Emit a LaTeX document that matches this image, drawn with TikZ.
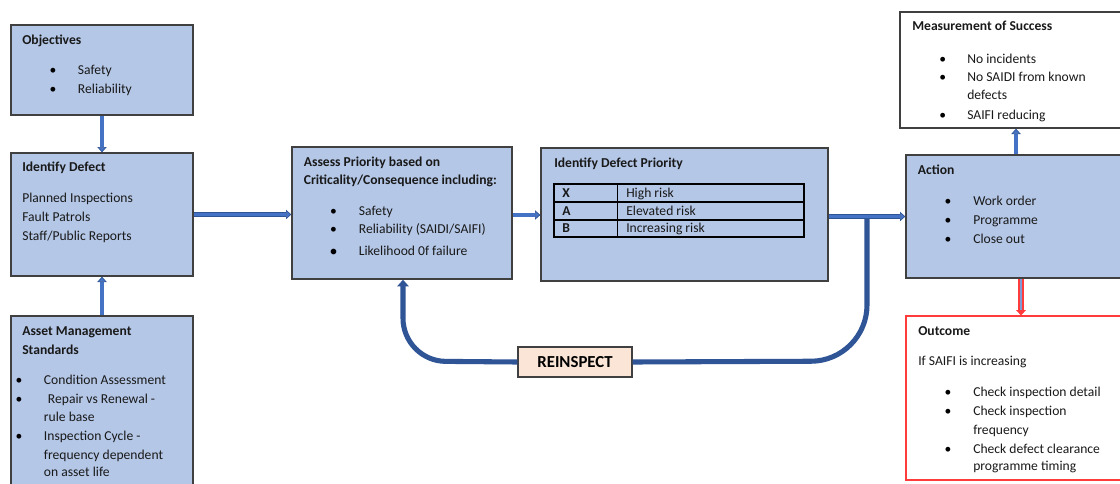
\documentclass[tikz,border=0pt]{standalone}
\usepackage{fontspec}
\setmainfont{Carlito}
\usetikzlibrary{arrows.meta,fit}
\definecolor{boxblue}{HTML}{B4C7E7}
\definecolor{edge}{HTML}{404040}
\definecolor{arrblue}{HTML}{4472C4}
\definecolor{arrdark}{HTML}{2F5597}
\definecolor{peach}{HTML}{FBE5D6}
\definecolor{outred}{HTML}{FF3B3B}
\newcommand\tl[4]{\node[txt] (#1) at (#2,#3) {#4};}
\newcommand\tb[4]{\node[txt,font=\fontsize{10.2}{13}\selectfont\bfseries] (#1) at (#2,#3) {#4};}
\newcommand\bu[3]{\node[bul] (#1) at (#2,#3) {\textbullet};}
\begin{document}
\begin{tikzpicture}[x=0.75pt,y=-0.75pt,
  every node/.style={font=\fontsize{10.2}{13}\selectfont},
  box/.style={draw=edge, line width=1pt, fill=boxblue, inner sep=0pt},
  wbox/.style={draw=edge, line width=1pt, fill=white, inner sep=0pt},
  rbox/.style={draw=outred, line width=1pt, fill=white, inner sep=0pt},
  txt/.style={anchor=base west, inner sep=0pt, text=black!90},
  bul/.style={anchor=base, inner sep=0pt},
  arr/.style={draw=arrdark, line width=0.5pt, double=arrblue, double distance=2.4pt,
    -{Triangle[length=4pt,width=7pt,fill=arrblue]}},
  loopline/.style={draw=arrdark, line width=3.8pt},
  redarr/.style={draw=outred, line width=1.1pt, double=arrblue!70, double distance=1.8pt,
    -{Triangle[length=4pt,width=7.5pt,fill=outred]}}]
\clip (0,0) rectangle (1120,483);
\fill[white] (0,0) rectangle (1120,483);

% boxes
\node[box, fit={(11,25) (193,115)}] (obj) {};
\node[box, fit={(11,153) (193,276)}] (idf) {};
\node[box, fit={(11,316) (193,495)}] (ams) {};
\node[box, fit={(292,147) (512,279)}] (asp) {};
\node[box, fit={(541,148) (828,281)}] (idp) {};
\node[box, fit={(906,155) (1130,278)}] (act) {};
\node[wbox, fit={(900,12) (1130,128)}] (mos) {};
\node[rbox, fit={(906,316) (1130,480)}] (out) {};
\node[draw=edge, line width=1pt, fill=peach, inner sep=0pt, fit={(518,347) (632,377)}] (rei) {};
\node[anchor=center, inner sep=0pt, font=\fontsize{12.6}{14}\selectfont\bfseries] (reit) at (rei.center) {REINSPECT};

% Objectives
\tb{objt}{22}{44}{Objectives}
\bu{objb1}{53}{74.5}\tl{objl1}{77.7}{74.5}{Safety}
\bu{objb2}{53}{93.5}\tl{objl2}{77.7}{93.5}{Reliability}

% Identify Defect
\tb{idft}{22}{171.5}{Identify Defect}
\tl{idf1}{22}{202.5}{Planned Inspections}
\tl{idf2}{22}{221.5}{Fault Patrols}
\tl{idf3}{22}{240.5}{Staff/Public Reports}

% Asset Management Standards
\tb{amst1}{22}{335.5}{Asset Management}
\tb{amst2}{22}{354}{Standards}
\bu{amsb1}{19}{384.5}\tl{amsl1}{43.7}{384.5}{Condition Assessment}
\bu{amsb2}{19}{403.3}\tl{amsl2}{47.7}{403.3}{Repair vs Renewal -}
\tl{amsl3}{43.7}{421.7}{rule base}
\bu{amsb3}{19}{440.7}\tl{amsl4}{43.7}{440.7}{Inspection Cycle -}
\tl{amsl5}{43.7}{459}{frequency dependent}
\tl{amsl6}{43.7}{476.7}{on asset life}

% Assess Priority
\tb{aspt1}{303.6}{166}{Assess Priority based on}
\tb{aspt2}{303.6}{184.5}{Criticality/Consequence including:}
\bu{aspb1}{333.6}{215}\tl{aspl1}{358.6}{215}{Safety}
\bu{aspb2}{333.6}{233}\tl{aspl2}{358.6}{233}{Reliability (SAIDI/SAIFI)}
\node[bul, font=\fontsize{12}{13}\selectfont] (aspb3) at (333.6,256) {\textbullet};
\tl{aspl3}{358.6}{255.7}{Likelihood 0f failure}

% Identify Defect Priority
\tb{idpt}{554}{167}{Identify Defect Priority}
\draw[line width=1pt, draw=black] (554,184) rectangle (804,237);
\draw[line width=1pt, draw=black] (554,202) -- (804,202) (554,220) -- (804,220) (617.5,184) -- (617.5,237);
\tb{tx}{562}{197}{X}\tl{txl}{626}{197}{High risk}
\tb{ta}{562}{215}{A}\tl{tal}{626}{215}{Elevated risk}
\tb{tbb}{562}{232.5}{B}\tl{tbl}{626}{232.5}{Increasing risk}

% Action
\tb{actt}{917.7}{174.7}{Action}
\bu{actb1}{948}{205.7}\tl{actl1}{973}{205.7}{Work order}
\bu{actb2}{948}{224.7}\tl{actl2}{973}{224.7}{Programme}
\bu{actb3}{948}{243.7}\tl{actl3}{973}{243.7}{Close out}

% Measurement of Success
\tb{most}{912}{30.7}{Measurement of Success}
\bu{mosb1}{942.7}{63}\tl{mosl1}{967}{63}{No incidents}
\bu{mosb2}{942.7}{81.7}\tl{mosl2}{967}{81.7}{No SAIDI from known}
\tl{mosl3}{967}{99.7}{defects}
\bu{mosb3}{942.7}{119}\tl{mosl4}{967}{119}{SAIFI reducing}

% Outcome
\tb{outt}{918}{335}{Outcome}
\tl{outi}{918}{365.7}{If SAIFI is increasing}
\bu{outb1}{948}{396.7}\tl{outl1}{973}{396.7}{Check inspection detail}
\bu{outb2}{948}{415.7}\tl{outl2}{973}{415.7}{Check inspection}
\tl{outl3}{973}{434}{frequency}
\bu{outb3}{948}{453}\tl{outl4}{973}{453}{Check defect clearance}
\tl{outl5}{973}{470.7}{programme timing}

% helper coordinates
\coordinate (j) at (867,216.5);
\coordinate (rc) at (867,361);
\coordinate (lc) at (403,361);
\coordinate (am) at (1016,0);
\coordinate (ao) at (1021,0);

% loop (reinspect)
\draw[loopline, rounded corners=42pt] (j) -- (rc) -- (rei.east);
\draw[loopline, rounded corners=32pt, -{Triangle[length=5pt,width=8.5pt]}] (rei.west) -- (lc) -- (asp.south -| lc);

% arrows
\draw[arr] (obj.south) -- (idf.north);
\draw[arr] (ams.north) -- (idf.south);
\draw[arr] (idf.east |- 0,214.5) -- (asp.west |- 0,214.5);
\draw[arr] (asp.east |- 0,215) -- (idp.west |- 0,215);
\draw[arr] (idp.east |- j) -- (act.west |- j);
\draw[arr] (act.north -| am) -- (mos.south -| am);
\draw[redarr] (act.south -| ao) -- (out.north -| ao);
\end{tikzpicture}
\end{document}
